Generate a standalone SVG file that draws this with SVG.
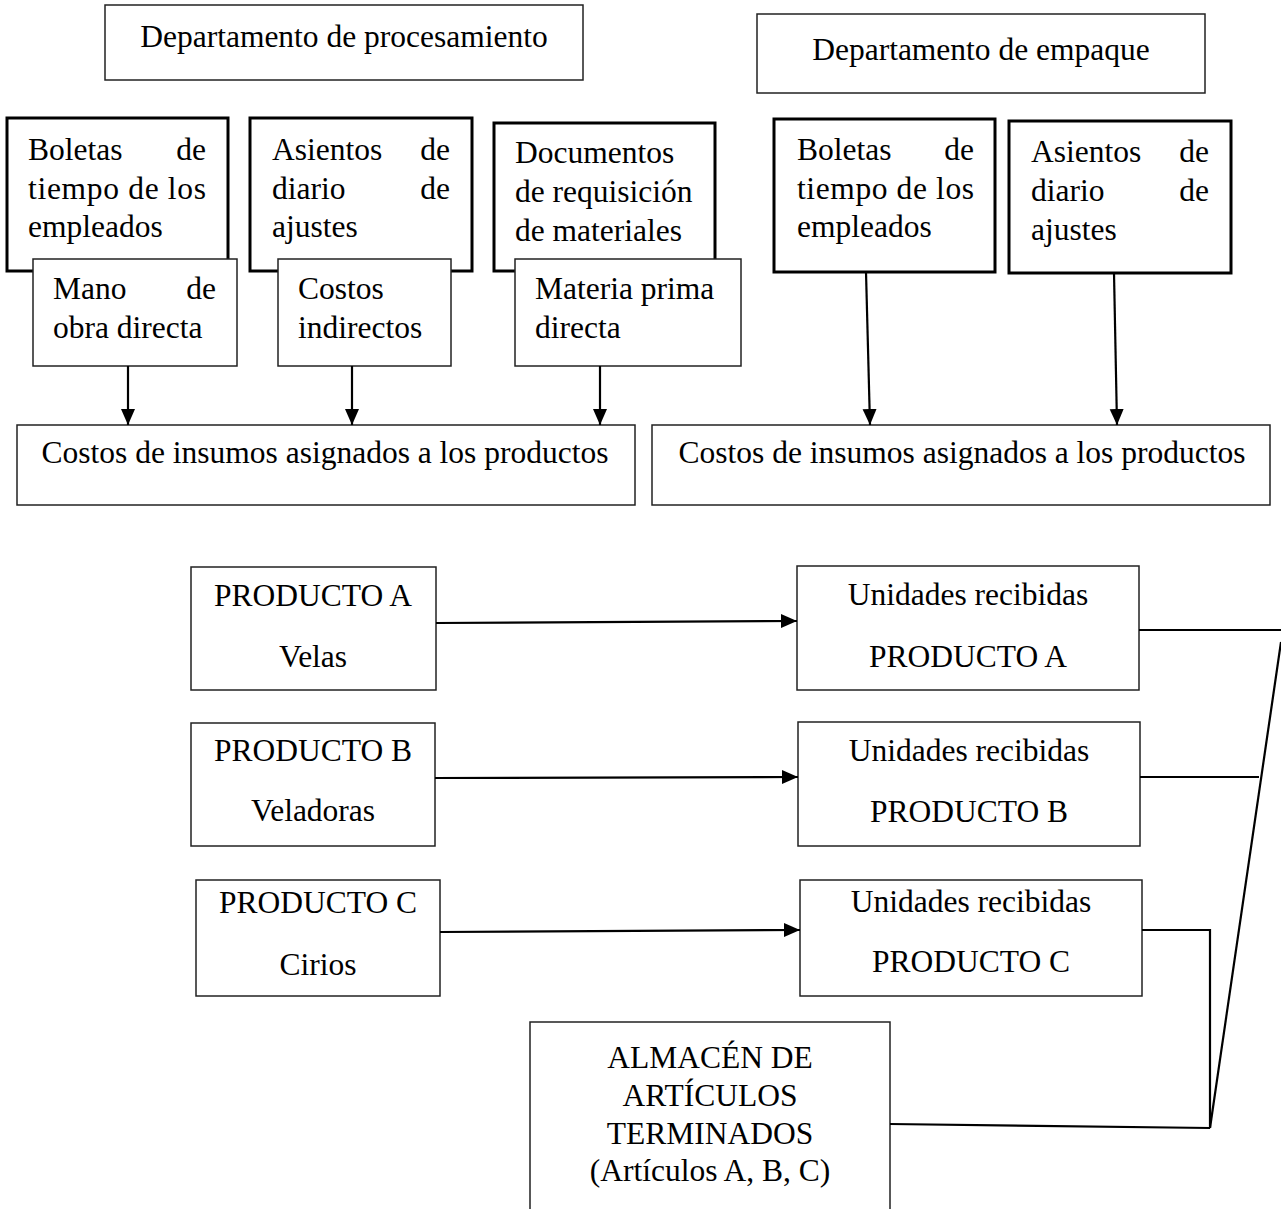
<svg xmlns="http://www.w3.org/2000/svg" width="1281" height="1209" viewBox="0 0 1281 1209">
  <style>
    text { font-family: "Liberation Serif", "Times New Roman", serif; font-size: 31.5px; fill: #000; }
    .c { text-anchor: middle; }
    .e { text-anchor: end; }
    .thin { fill: #fff; stroke: #222; stroke-width: 1.5; }
    .thick { fill: #fff; stroke: #000; stroke-width: 3; }
    .ln { fill: none; stroke: #000; stroke-width: 2.2; }
  </style>
  <defs>
    <marker id="ah" markerUnits="userSpaceOnUse" markerWidth="16" markerHeight="16" viewBox="0 0 16 16" refX="16" refY="8" orient="auto">
      <path d="M0,1 L16,8 L0,15 Z" fill="#000"/>
    </marker>
  </defs>

  <!-- Department headers -->
  <g id="dep-procesamiento">
    <rect class="thin" x="105" y="5" width="478" height="75"/>
    <text class="c" x="344" y="47">Departamento de procesamiento</text>
  </g>
  <g id="dep-empaque">
    <rect class="thin" x="757" y="14" width="448" height="79"/>
    <text class="c" x="981" y="60">Departamento de empaque</text>
  </g>

  <!-- Source documents, processing department -->
  <g id="boletas-1">
    <rect class="thick" x="7" y="118" width="221" height="153"/>
    <text x="28" y="160">Boletas</text><text class="e" x="206" y="160">de</text>
    <text x="28" y="199" textLength="178" lengthAdjust="spacing">tiempo de los</text>
    <text x="28" y="237">empleados</text>
  </g>
  <g id="asientos-1">
    <rect class="thick" x="250" y="118" width="222" height="153"/>
    <text x="272" y="160">Asientos</text><text class="e" x="450" y="160">de</text>
    <text x="272" y="199">diario</text><text class="e" x="450" y="199">de</text>
    <text x="272" y="237">ajustes</text>
  </g>
  <g id="documentos">
    <rect class="thick" x="494" y="123" width="221" height="148"/>
    <text x="515" y="163">Documentos</text>
    <text x="515" y="202">de requisición</text>
    <text x="515" y="241">de materiales</text>
  </g>

  <!-- Cost elements -->
  <g id="mano-obra">
    <rect class="thin" x="33" y="259" width="204" height="107"/>
    <text x="53" y="299">Mano</text><text class="e" x="216" y="299">de</text>
    <text x="53" y="338">obra directa</text>
  </g>
  <g id="costos-indirectos">
    <rect class="thin" x="278" y="259" width="173" height="107"/>
    <text x="298" y="299">Costos</text>
    <text x="298" y="338">indirectos</text>
  </g>
  <g id="materia-prima">
    <rect class="thin" x="515" y="259" width="226" height="107"/>
    <text x="535" y="299">Materia prima</text>
    <text x="535" y="338">directa</text>
  </g>

  <!-- Source documents, packing department -->
  <g id="boletas-2">
    <rect class="thick" x="774" y="119" width="221" height="153"/>
    <text x="797" y="160">Boletas</text><text class="e" x="974" y="160">de</text>
    <text x="797" y="199" textLength="177" lengthAdjust="spacing">tiempo de los</text>
    <text x="797" y="237">empleados</text>
  </g>
  <g id="asientos-2">
    <rect class="thick" x="1009" y="121" width="222" height="152"/>
    <text x="1031" y="162">Asientos</text><text class="e" x="1209" y="162">de</text>
    <text x="1031" y="201">diario</text><text class="e" x="1209" y="201">de</text>
    <text x="1031" y="240">ajustes</text>
  </g>

  <!-- Input cost totals -->
  <g id="costos-insumos-1">
    <rect class="thin" x="17" y="425" width="618" height="80"/>
    <text class="c" x="325" y="463">Costos de insumos asignados a los productos</text>
  </g>
  <g id="costos-insumos-2">
    <rect class="thin" x="652" y="425" width="618" height="80"/>
    <text class="c" x="962" y="463">Costos de insumos asignados a los productos</text>
  </g>

  <!-- Products -->
  <g id="producto-a">
    <rect class="thin" x="191" y="567" width="245" height="123"/>
    <text class="c" x="313" y="606">PRODUCTO A</text>
    <text class="c" x="313" y="667">Velas</text>
  </g>
  <g id="producto-b">
    <rect class="thin" x="191" y="723" width="244" height="123"/>
    <text class="c" x="313" y="761">PRODUCTO B</text>
    <text class="c" x="313" y="821">Veladoras</text>
  </g>
  <g id="producto-c">
    <rect class="thin" x="196" y="880" width="244" height="116"/>
    <text class="c" x="318" y="913">PRODUCTO C</text>
    <text class="c" x="318" y="975">Cirios</text>
  </g>

  <!-- Units received -->
  <g id="unidades-a">
    <rect class="thin" x="797" y="566" width="342" height="124"/>
    <text class="c" x="968" y="605">Unidades recibidas</text>
    <text class="c" x="968" y="667">PRODUCTO A</text>
  </g>
  <g id="unidades-b">
    <rect class="thin" x="798" y="722" width="342" height="124"/>
    <text class="c" x="969" y="761">Unidades recibidas</text>
    <text class="c" x="969" y="822">PRODUCTO B</text>
  </g>
  <g id="unidades-c">
    <rect class="thin" x="800" y="880" width="342" height="116"/>
    <text class="c" x="971" y="912">Unidades recibidas</text>
    <text class="c" x="971" y="972">PRODUCTO C</text>
  </g>

  <!-- Finished goods warehouse -->
  <g id="almacen">
    <rect class="thin" x="530" y="1022" width="360" height="200"/>
    <text class="c" x="710" y="1068">ALMACÉN DE</text>
    <text class="c" x="710" y="1106">ARTÍCULOS</text>
    <text class="c" x="710" y="1144">TERMINADOS</text>
    <text class="c" x="710" y="1181">(Artículos A, B, C)</text>
  </g>

  <!-- Connectors -->
  <g id="connectors">
    <line class="ln" x1="128" y1="366" x2="128" y2="425" marker-end="url(#ah)"/>
    <line class="ln" x1="352" y1="366" x2="352" y2="425" marker-end="url(#ah)"/>
    <line class="ln" x1="600" y1="366" x2="600" y2="425" marker-end="url(#ah)"/>
    <line class="ln" x1="866" y1="272" x2="870" y2="425" marker-end="url(#ah)"/>
    <line class="ln" x1="1114" y1="273" x2="1117" y2="425" marker-end="url(#ah)"/>

    <line class="ln" x1="436" y1="623" x2="797" y2="621" marker-end="url(#ah)"/>
    <line class="ln" x1="435" y1="778" x2="798" y2="777" marker-end="url(#ah)"/>
    <line class="ln" x1="440" y1="932" x2="800" y2="930" marker-end="url(#ah)"/>

    <line class="ln" x1="1139" y1="630" x2="1281" y2="630"/>
    <line class="ln" x1="1140" y1="777" x2="1259" y2="777"/>
    <polyline class="ln" points="1142,930 1210,930 1210,1128"/>
    <line class="ln" x1="890" y1="1124" x2="1210" y2="1128"/>
    <line class="ln" x1="1281" y1="642" x2="1210" y2="1128"/>
  </g>
</svg>
